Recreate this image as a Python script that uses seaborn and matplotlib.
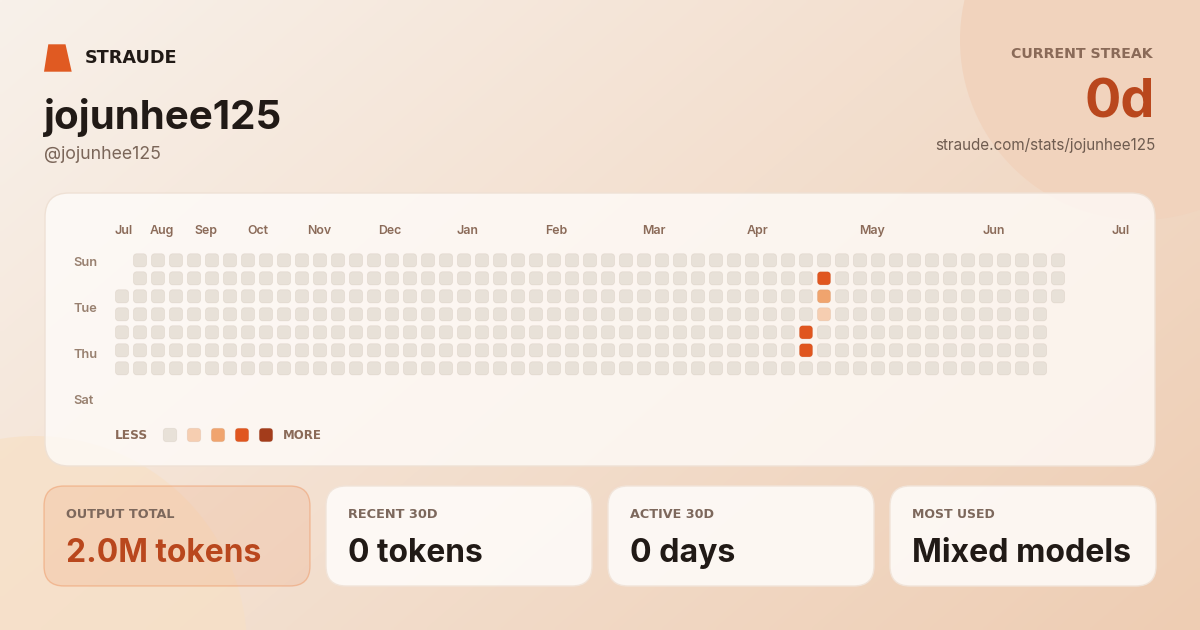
import numpy as np
import pandas as pd
import matplotlib
matplotlib.use("Agg")
import matplotlib.pyplot as plt
import seaborn as sns
from matplotlib.path import Path
from matplotlib.patches import FancyBboxPatch, Circle, Polygon
from matplotlib.colors import to_rgb

# ---------------- data ----------------
brand = "STRAUDE"
user_name = "jojunhee125"
handle = "@jojunhee125"
profile_url = "straude.com/stats/jojunhee125"
streak_label = "CURRENT STREAK"
streak_value = "0d"
stat_labels = ["OUTPUT TOTAL", "RECENT 30D", "ACTIVE 30D", "MOST USED"]
stat_values = ["2.0M tokens", "0 tokens", "0 days", "Mixed models"]

month_labels = ["Jul", "Aug", "Sep", "Oct", "Nov", "Dec", "Jan", "Feb", "Mar", "Apr", "May", "Jun", "Jul"]
month_positions = [-0.39, 1.56, 4.0, 6.94, 10.28, 14.22, 18.61, 23.5, 28.89, 34.72, 40.94, 47.78, 55.0]
day_labels = ["Sun", "Tue", "Thu", "Sat"]
day_positions = [0.33, 2.89, 5.44, 8.0]

n_days = 365
first_weekday = 2
active_days = [268, 269, 272, 273, 274]
active_levels = [3, 3, 3, 2, 1]
level_colors = ["#e8e1d8", "#f6ceb1", "#f0a46e", "#e0561f", "#a33c1b"]
legend_less, legend_more = "LESS", "MORE"

# ---------------- figure ----------------
sns.set_style("white")
plt.rcParams["font.family"] = ["Inter", "DejaVu Sans"]

fig = plt.figure(figsize=(12, 6.3), dpi=100)
bg = fig.add_axes([0, 0, 1, 1])
renderer = fig.canvas.get_renderer()

# background gradient
H, W = 126, 240
yy, xx = np.mgrid[0:H, 0:W]
t = 0.62 * xx / (W - 1) + 0.38 * yy / (H - 1)
c0 = np.array(to_rgb("#f8f1ea"))
c1 = np.array(to_rgb("#eecdb3"))
img = c0 + (c1 - c0) * t[..., None]
bg.imshow(img, extent=(0, 1200, 630, 0), aspect="auto", zorder=0, interpolation="bilinear")
bg.set_xlim(0, 1200)
bg.set_ylim(630, 0)
bg.axis("off")

bg.add_patch(Circle((1140, 40), 180, color="#f1d3bd", zorder=1, lw=0))
bg.add_patch(Circle((35, 648), 212, color="#f7e0c6", alpha=0.7, zorder=1, lw=0))

# main card
bg.add_patch(FancyBboxPatch((45, 193), 1110, 273, boxstyle="round,pad=0,rounding_size=24",
                            fc=(1, 0.992, 0.984, 0.76), ec="#efe1d5", lw=1, zorder=2))

# stat cards
card_w, card_gap, card_x0 = 266, 16, 44
for i in range(4):
    x = card_x0 + i * (card_w + card_gap)
    if i == 0:
        fc, ec = (0.91, 0.50, 0.29, 0.14), (0.93, 0.55, 0.33, 0.42)
    else:
        fc, ec = (1, 0.992, 0.984, 0.86), "#f1e4d9"
    bg.add_patch(FancyBboxPatch((x, 486), card_w, 100, boxstyle="round,pad=0,rounding_size=20",
                                fc=fc, ec=ec, lw=1, zorder=2))

# logo
bg.add_patch(Polygon([(48.3, 44.3), (65.5, 44.3), (71.7, 71.7), (44, 71.7)], closed=True,
                     color="#e05a22", zorder=3, lw=0))


def text_width(s, size_px, family, weight):
    tt = bg.text(0, 0, s, fontsize=size_px * 0.72, family=family, fontweight=weight)
    w = tt.get_window_extent(renderer=renderer).width
    tt.remove()
    return w


def put(x, y, s, width, family, weight, color, ha="left", cap_px=None, blend=1.0):
    fit = 10 * width / text_width(s, 10, family, weight)
    size = fit if cap_px is None else (cap_px / 0.727) * (1 - blend) + fit * blend
    return bg.text(x, y, s, fontsize=size * 0.72, family=family, fontweight=weight,
                   color=color, ha=ha, va="baseline", zorder=5)


INTER = ["Inter", "DejaVu Sans"]
WIDE = ["DejaVu Sans"]

put(85, 63, brand, 93, WIDE, "bold", "#211a16", cap_px=12.7, blend=0.5)
put(44, 129, user_name, 238, INTER, "bold", "#211a16")
put(44, 159, handle, 117, INTER, "normal", "#7b6659")
put(1153, 57.5, streak_label, 145, WIDE, "bold", "#8a6a58", ha="right", cap_px=10, blend=0.5)
put(1155, 117, streak_value, 70, INTER, "bold", "#b9471d", ha="right")
put(1155, 150, profile_url, 221, INTER, "normal", "#6f5c50", ha="right")

label_w = [118, 98, 92, 89]
value_w = [195, 135, 105, 218]
for i in range(4):
    x = card_x0 + i * (card_w + card_gap) + 22
    put(x, 517.5, stat_labels[i], label_w[i], WIDE, "bold", "#7d685c", cap_px=8.4, blend=0.5)
    put(x + 0.5, 561.7, stat_values[i], value_w[i], INTER, "bold",
        "#b9471d" if i == 0 else "#211a16")

# legend
put(115, 439, legend_less, 36, WIDE, "bold", "#8a6a58", cap_px=8, blend=0.5)
for k, col in enumerate(level_colors):
    bg.add_patch(FancyBboxPatch((163.3 + 24 * k, 428.3), 13.4, 13.4,
                                boxstyle="round,pad=0,rounding_size=3.2",
                                fc=col, ec=(0.42, 0.28, 0.18, 0.08), lw=0.6, zorder=4))
put(283.3, 439, legend_more, 41, WIDE, "bold", "#8a6a58", cap_px=8, blend=0.5)

# ---------------- activity grid ----------------
day = np.arange(n_days)
pos = day + first_weekday
levels = np.zeros(n_days, dtype=int)
levels[active_days] = active_levels
df = pd.DataFrame({"week": pos // 7, "weekday": pos % 7, "level": levels})


def rounded_square(r=0.24, k=0.5523):
    h = 0.5
    v = [(-h + r, -h), (h - r, -h),
         (h - r + k * r, -h), (h, -h + r - k * r), (h, -h + r),
         (h, h - r),
         (h, h - r + k * r), (h - r + k * r, h), (h - r, h),
         (-h + r, h),
         (-h + r - k * r, h), (-h, h - r + k * r), (-h, h - r),
         (-h, -h + r),
         (-h, -h + r - k * r), (-h + r - k * r, -h), (-h + r, -h),
         (-h + r, -h)]
    c = [Path.MOVETO, Path.LINETO] + [Path.CURVE4] * 3 + [Path.LINETO] + [Path.CURVE4] * 3 + \
        [Path.LINETO] + [Path.CURVE4] * 3 + [Path.LINETO] + [Path.CURVE4] * 3 + [Path.CLOSEPOLY]
    return Path(v, c)


gx = fig.add_axes([113 / 1200, 1 - (251.3 + 126) / 630, 954 / 1200, 126 / 630], zorder=3)
gx.patch.set_alpha(0)
sns.scatterplot(data=df, x="week", y="weekday", hue="level", hue_order=[0, 1, 2, 3, 4],
                palette=dict(enumerate(level_colors)), marker=rounded_square(), s=90,
                linewidth=0.6, edgecolor=(0.42, 0.28, 0.18, 0.08), legend=False, ax=gx)
gx.set_xlim(-0.5, 52.5)
gx.set_ylim(6.5, -0.5)
gx.axis("off")

for name, p in zip(month_labels, month_positions):
    gx.text(p, -1.46, name, ha="left", va="baseline", fontsize=12.4 * 0.72,
            family=INTER, fontweight="semibold", color="#8b6b59", clip_on=False)
for name, p in zip(day_labels, day_positions):
    gx.text(-2.72, p, name, ha="left", va="baseline", fontsize=12.8 * 0.72,
            family=INTER, fontweight="semibold", color="#98806f", clip_on=False)

fig.savefig("out.png", dpi=100)
